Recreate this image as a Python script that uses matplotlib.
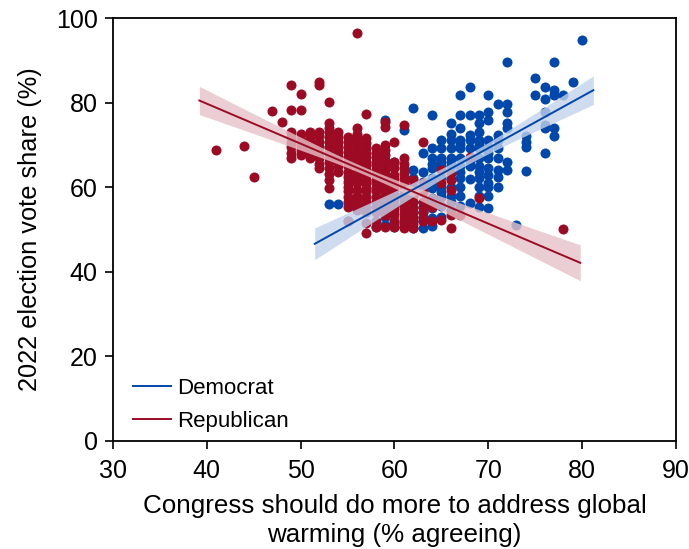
import matplotlib
matplotlib.use("Agg")
import matplotlib.pyplot as plt
import numpy as np

plt.rcParams['font.family'] = ['Liberation Sans', 'DejaVu Sans']

# Democrat districts: x (% agreeing) -> vote shares
dem_cols = {
    53: [56.0], 54: [56.0], 55: [52.0], 56: [62.9], 58: [50.5],
    59: [76.0, 53.0, 51.0],
    60: [66.0, 58.5, 55.5, 51.5, 50.5],
    61: [73.5, 55.8, 52.0, 50.5],
    62: [78.8, 64.1, 62.1, 59.7, 58.0, 56.6, 54.2, 53.0, 51.9, 50.3],
    63: [68.0, 63.7, 61.3, 60.1, 59.0, 56.6, 55.4, 54.2, 51.9, 50.3],
    64: [77.1, 69.2, 66.8, 65.6, 64.5, 62.1, 60.9, 59.7, 57.4, 56.2, 55.0, 52.6, 50.8],
    65: [71.2, 69.3, 67.0, 65.9, 64.9, 62.5, 60.0, 58.8, 57.6, 55.5, 53.0],
    66: [75.1, 72.7, 71.2, 69.3, 67.0, 65.9, 64.9, 62.0, 60.0, 58.0, 56.5, 54.5],
    67: [81.8, 77.1, 73.9, 71.2, 70.2, 69.3, 67.0, 64.9, 63.5, 62.1, 60.0, 58.0, 55.5],
    68: [83.8, 77.1, 72.3, 71.2, 69.3, 66.2, 65.0, 62.0, 56.2],
    69: [77.1, 75.1, 73.1, 71.2, 70.2, 69.3, 67.0, 64.9, 63.5, 62.1, 60.0, 58.0, 55.4],
    70: [81.8, 77.9, 75.9, 71.2, 69.3, 68.1, 67.0, 64.5, 62.9, 61.0, 60.0, 58.0, 55.0],
    71: [79.8, 72.3, 71.2, 69.3, 67.0, 64.0, 62.5, 60.0],
    72: [89.7, 79.8, 77.9, 75.1, 74.0, 66.0, 64.1],
    73: [51.0],
    74: [72.0, 70.8, 69.6, 63.9],
    75: [85.8, 81.8],
    76: [83.8, 80.8, 77.9, 74.7, 74.0, 68.0],
    77: [89.7, 83.0, 81.8, 74.0, 72.0],
    78: [81.8], 79: [84.8], 80: [94.8],
}

# Republican districts
rep_cols = {
    41: [68.8], 44: [69.8], 45: [62.4], 47: [78.0], 48: [75.4],
    49: [84.2, 78.2, 73.0, 71.9, 70.5, 69.6, 68.0, 66.8],
    50: [82.0, 78.3, 72.5, 71.2, 70.0, 68.8, 67.6],
    51: [73.0, 72.3, 71.2, 70.4, 69.2, 68.0, 66.8],
    52: [85.0, 84.2, 73.1, 72.0, 70.8, 69.6, 68.0, 66.8, 65.6, 64.5],
    53: [80.2, 75.1, 73.9, 73.1, 71.9, 70.7, 69.6, 68.4, 67.2, 66.0, 64.5, 63.2, 61.7, 59.7],
    54: [73.1, 71.9, 70.7, 69.6, 68.4, 67.2, 66.0, 64.9, 63.7],
    55: [71.9, 70.7, 69.6, 68.4, 67.2, 66.0, 64.9, 63.7, 62.5, 61.3, 60.1, 59.0, 57.8,
         56.6, 55.4, 51.9],
    56: [96.5, 73.9, 72.7, 71.6, 70.4, 69.2, 68.0, 67.2, 66.0, 64.9, 63.7, 62.9, 61.7,
         60.9, 59.3, 58.0, 57.0, 55.8, 54.6],
    57: [77.2, 71.6, 70.4, 69.2, 68.0, 67.2, 66.0, 65.3, 64.1, 62.9, 61.7, 60.9, 59.7,
         59.0, 57.8, 56.6, 55.4, 54.2, 51.5, 49.1],
    58: [69.2, 68.0, 67.2, 66.0, 65.3, 64.1, 62.9, 61.7, 60.9, 59.7, 59.0, 57.8, 56.6,
         55.4, 54.2, 52.0, 50.7],
    59: [75.5, 74.3, 70.0, 68.8, 67.6, 66.4, 65.3, 64.1, 62.9, 61.7, 60.5, 59.3, 58.2,
         57.0, 55.8, 54.6, 53.4, 50.7],
    60: [70.8, 66.0, 64.5, 62.9, 61.7, 60.5, 59.3, 58.2, 57.0, 55.8, 54.6, 53.4, 51.9, 50.7],
    61: [74.7, 66.8, 65.6, 64.5, 63.3, 62.1, 60.9, 59.7, 58.5, 57.4, 56.2, 55.0, 53.8,
         52.6, 51.4, 50.3],
    62: [61.7, 60.0, 58.2, 56.6, 55.0, 53.8, 52.6, 51.4, 50.3],
    63: [70.8, 60.9, 58.8, 56.6, 55.4, 54.2, 53.0, 51.9],
    64: [55.4, 51.9],
    65: [64.1, 61.0, 52.2],
    66: [63.3, 61.7, 59.3, 53.4, 50.3],
    67: [53.4], 68: [67.2], 69: [57.4], 78: [50.1],
}

dem_color = '#0047ab'
rep_color = '#9c0b23'
dem_band = '#c3d3ec'
rep_band = '#e6c2c8'


def flatten(cols):
    xs, ys = [], []
    for k, v in cols.items():
        xs += [k] * len(v)
        ys += v
    return np.array(xs, float), np.array(ys, float)


def fit_band(x, y, xr):
    # OLS line with 95% confidence band
    b, a = np.polyfit(x, y, 1)
    n = len(x)
    res = y - (a + b * x)
    s = np.sqrt(np.sum(res ** 2) / (n - 2))
    sxx = np.sum((x - x.mean()) ** 2)
    xx = np.linspace(xr[0], xr[1], 100)
    yy = a + b * xx
    se = s * np.sqrt(1 / n + (xx - x.mean()) ** 2 / sxx)
    return xx, yy, 1.97 * se


xd, yd = flatten(dem_cols)
xr_, yr_ = flatten(rep_cols)

fig = plt.figure(figsize=(6.89, 5.49), dpi=100)
ax = fig.add_axes([0.164, 0.197, 0.817, 0.770])

ax.scatter(xd, yd, s=52, color=dem_color, linewidths=0, zorder=2)
ax.scatter(xr_, yr_, s=52, color=rep_color, linewidths=0, zorder=2)

for x, y, xr, c, bc, lab in [(xd, yd, (51.5, 81.2), dem_color, dem_band, 'Democrat'),
                             (xr_, yr_, (39.2, 79.8), rep_color, rep_band, 'Republican')]:
    xx, yy, ci = fit_band(x, y, xr)
    ax.fill_between(xx, yy - ci, yy + ci, color=bc, alpha=0.8, lw=0, zorder=3)
    ax.plot(xx, yy, color=c, lw=1.4, zorder=4, label=lab)

ax.set_xlim(30, 90)
ax.set_ylim(0, 100)
ax.set_xticks(range(30, 91, 10))
ax.set_yticks(range(0, 101, 20))
ax.tick_params(labelsize=18, length=6, width=1.2, direction='out', pad=5)
ax.tick_params(axis='x', pad=7)
for sp in ax.spines.values():
    sp.set_linewidth(1.3)

ax.set_xlabel('Congress should do more to address global\nwarming (% agreeing)',
              fontsize=18.7, labelpad=8, linespacing=1.25)
ax.set_ylabel('2022 election vote share (%)', fontsize=18.3, labelpad=10)

leg = ax.legend(loc='lower left', bbox_to_anchor=(0.02, 0.0), frameon=False, fontsize=16,
                handlelength=1.7, handletextpad=0.3, labelspacing=0.55, borderaxespad=0)

fig.savefig('out.png', dpi=100)
